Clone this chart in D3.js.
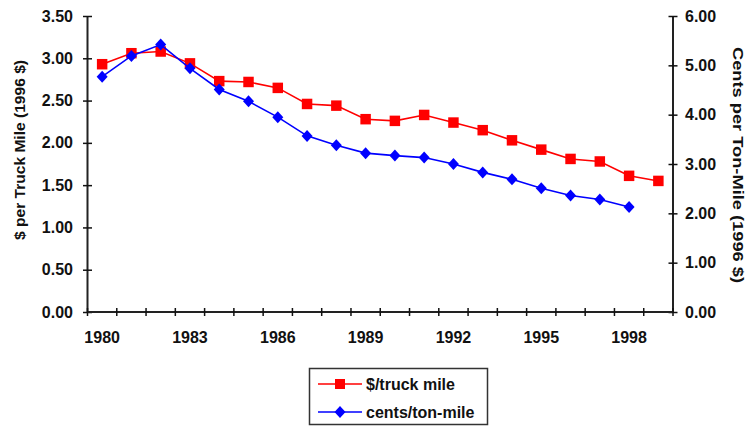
<!DOCTYPE html>
<html>
<head>
<meta charset="utf-8">
<script src="https://cdn.jsdelivr.net/npm/d3@7"></script>
<style>
  html, body { margin: 0; padding: 0; background: #fff; }
  text { font-family: "Liberation Sans", Arial, sans-serif; fill: #111; }
</style>
</head>
<body>
<svg id="chart" width="747" height="427"></svg>
<script>
const years = [1980,1981,1982,1983,1984,1985,1986,1987,1988,1989,1990,1991,1992,1993,1994,1995,1996,1997,1998,1999];
const truckMile = [2.93,3.06,3.08,2.94,2.73,2.72,2.65,2.46,2.44,2.28,2.26,2.33,2.24,2.15,2.03,1.92,1.81,1.78,1.61,1.55];
const tonMile = [4.77,5.19,5.42,4.94,4.51,4.27,3.95,3.57,3.38,3.22,3.17,3.13,3.00,2.83,2.69,2.51,2.36,2.28,2.13,null];
const leftTicks = [0,0.5,1,1.5,2,2.5,3,3.5];
const rightTicks = [0,1,2,3,4,5,6];
const yearLabels = [1980,1983,1986,1989,1992,1995,1998];
const seriesNames = ["$/truck mile", "cents/ton-mile"];
const leftTitle = "$ per Truck Mile (1996 $)";
const rightTitle = "Cents per Ton-Mile (1996 $)";

const svg = d3.select("#chart");
const L = 87.5, R = 673, T = 16, B = 312;

const x = d3.scaleBand().domain(years).range([L, R]).padding(0);
const cx = d => x(d) + x.bandwidth() / 2;
const yL = d3.scaleLinear().domain([0, 3.5]).range([B, T]);
const yR = d3.scaleLinear().domain([0, 6]).range([B, T]);

// Left axis
const gL = svg.append("g").attr("transform", `translate(${L},0)`)
  .call(d3.axisLeft(yL).tickValues(leftTicks).tickFormat(d3.format(".2f")).tickSize(4).tickPadding(10.5));
gL.selectAll(".tick line").attr("x1", -4.5).attr("x2", 4.5);
// Right axis
const gR = svg.append("g").attr("transform", `translate(${R},0)`)
  .call(d3.axisRight(yR).tickValues(rightTicks).tickFormat(d3.format(".2f")).tickSize(4).tickPadding(8));
gR.selectAll(".tick line").attr("x1", -4.5).attr("x2", 4.5);
// Bottom axis (labels at category centers)
const gB = svg.append("g").attr("transform", `translate(0,${B})`)
  .call(d3.axisBottom(x).tickValues(yearLabels).tickSize(0).tickPadding(19.5));
// Tick marks between categories
const edges = years.map(d => x(d)).concat([R]);
gB.selectAll(".edge").data(edges).enter().append("line")
  .attr("x1", d => d).attr("x2", d => d).attr("y1", -4).attr("y2", 4)
  .attr("stroke", "#111").attr("stroke-width", 1.5);

[gL, gR, gB].forEach(g => {
  g.select(".domain").attr("stroke", "#222").attr("stroke-width", 2);
  g.selectAll(".tick line").attr("stroke", "#111").attr("stroke-width", 1.5);
  g.selectAll(".tick text").style("font-family", "'Liberation Sans', Arial, sans-serif")
    .style("font-size", "16px").style("font-weight", "bold").attr("fill", "#111");
});
gB.select(".domain").attr("d", `M${L},0H${R}`);
gL.select(".domain").attr("d", `M0,${T}V${B}`);
gR.select(".domain").attr("d", `M0,${T}V${B}`);

// Axis titles
svg.append("text")
  .attr("transform", `translate(25,150) rotate(-90)`)
  .attr("text-anchor", "middle")
  .attr("textLength", 180).attr("lengthAdjust", "spacingAndGlyphs")
  .style("font-size", "15px").style("font-weight", "bold")
  .text(leftTitle);
svg.append("text")
  .attr("transform", `translate(733,165) rotate(90)`)
  .attr("text-anchor", "middle")
  .attr("textLength", 236).attr("lengthAdjust", "spacingAndGlyphs")
  .style("font-size", "15px").style("font-weight", "bold")
  .text(rightTitle);

// Series
const red = "#ff0000", blue = "#0000ff";
const lineRed = d3.line().x((d, i) => cx(years[i])).y(d => yL(d));
const lineBlue = d3.line().defined(d => d != null).x((d, i) => cx(years[i])).y(d => yR(d));

svg.append("path").attr("d", lineRed(truckMile)).attr("fill", "none").attr("stroke", red).attr("stroke-width", 1.6);
svg.append("g").selectAll("path").data(truckMile).enter().append("path")
  .attr("d", d3.symbol().type(d3.symbolSquare).size(110)())
  .attr("transform", (d, i) => `translate(${cx(years[i])},${yL(d)})`)
  .attr("fill", red);

svg.append("path").attr("d", lineBlue(tonMile)).attr("fill", "none").attr("stroke", blue).attr("stroke-width", 1.6);
const diamond = "M0,-6L5.5,0L0,6L-5.5,0Z";
svg.append("g").selectAll("path").data(tonMile.map((v, i) => [years[i], v]).filter(d => d[1] != null)).enter().append("path")
  .attr("d", diamond)
  .attr("transform", d => `translate(${cx(d[0])},${yR(d[1])})`)
  .attr("fill", blue);

// Legend
const lg = svg.append("g");
lg.append("rect").attr("x", 309.5).attr("y", 368.5).attr("width", 178).attr("height", 56)
  .attr("fill", "#fff").attr("stroke", "#333").attr("stroke-width", 1.5);
const rows = [{name: seriesNames[0], color: red, y: 384, sym: "sq"}, {name: seriesNames[1], color: blue, y: 412, sym: "dm"}];
rows.forEach(r => {
  lg.append("line").attr("x1", 318).attr("x2", 362).attr("y1", r.y).attr("y2", r.y)
    .attr("stroke", r.color).attr("stroke-width", 1.6);
  lg.append("path")
    .attr("d", r.sym === "sq" ? d3.symbol().type(d3.symbolSquare).size(100)() : diamond)
    .attr("transform", `translate(340,${r.y})`).attr("fill", r.color);
  lg.append("text").attr("x", 366).attr("y", r.y).attr("dy", "0.35em")
    .style("font-size", "16px").style("font-weight", "bold").text(r.name);
});
</script>
</body>
</html>
